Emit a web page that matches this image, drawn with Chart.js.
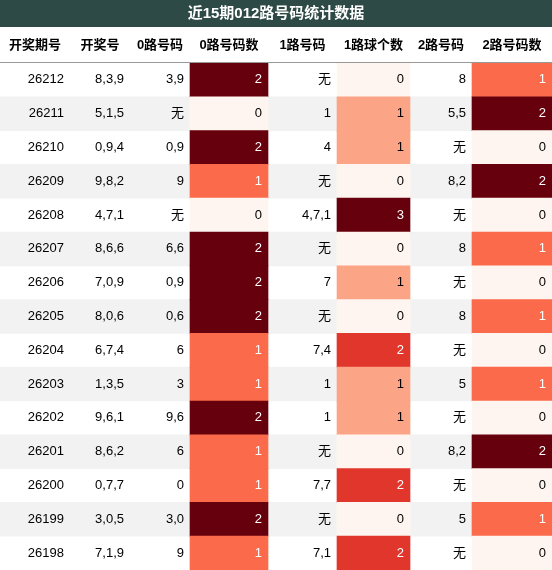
<!DOCTYPE html>
<html>
<head>
<meta charset="utf-8">
<script src="https://cdn.jsdelivr.net/npm/chart.js@4"></script>
<style>body{margin:0;background:#fff}</style>
</head>
<body>
<canvas id="tbl" width="552" height="570"></canvas>
<script>
const title = '近15期012路号码统计数据';
const headers = ['开奖期号','开奖号','0路号码','0路号码数','1路号码','1路球个数','2路号码','2路号码数'];
const issues = ['26212','26211','26210','26209','26208','26207','26206','26205','26204','26203','26202','26201','26200','26199','26198'];
const draws = ['8,3,9','5,1,5','0,9,4','9,8,2','4,7,1','8,6,6','7,0,9','8,0,6','6,7,4','1,3,5','9,6,1','8,6,2','0,7,7','3,0,5','7,1,9'];
const road0 = ['3,9','无','0,9','9','无','6,6','0,9','0,6','6','3','9,6','6','0','3,0','9'];
const count0 = [2,0,2,1,0,2,2,2,1,1,2,1,1,2,1];
const road1 = ['无','1','4','无','4,7,1','无','7','无','7,4','1','1','无','7,7','无','7,1'];
const count1 = [0,1,1,0,3,0,1,0,2,1,1,0,2,0,2];
const road2 = ['8','5,5','无','8,2','无','8','无','8','无','5','无','8,2','无','5','无'];
const count2 = [1,2,0,2,0,1,0,1,0,1,0,2,0,1,0];

// column edges in px (layout)
const edges = [0,70,130,190,268,337,410,472,552];
const pal2 = ['#fff5f0','#fb6a4a','#67000d'];
const pal3 = ['#fff5f0','#fca486','#e0362b','#67000d'];

const cols = [issues, draws, road0, count0, road1, count1, road2, count2];

function heat(col, values, pal) {
  return {
    data: values.map(() => [edges[col], edges[col + 1]]),
    backgroundColor: values.map(v => pal[v]),
    barPercentage: 1, categoryPercentage: 1, grouped: false, borderWidth: 0
  };
}

const textPlugin = {
  id: 'texts',
  beforeDraw(chart) {
    const c = chart.ctx;
    c.save();
    c.fillStyle = '#2e4a46';
    c.fillRect(0, 0, 552, 27);
    c.fillStyle = '#fff';
    c.font = 'bold 15px "Liberation Sans","Noto Sans CJK SC"';
    c.textAlign = 'center'; c.textBaseline = 'middle';
    c.fillText(title, 276, 14);
    c.fillStyle = '#000';
    c.font = 'bold 13px "Liberation Sans","Noto Sans CJK SC"';
    headers.forEach((h, j) => c.fillText(h, (edges[j] + edges[j + 1]) / 2, 45));
    c.strokeStyle = '#999'; c.lineWidth = 1;
    c.beginPath(); c.moveTo(0, 62.5); c.lineTo(552, 62.5); c.stroke();
    c.restore();
  },
  afterDatasetsDraw(chart) {
    const c = chart.ctx, y = chart.scales.y;
    c.save();
    c.font = '13px "Liberation Sans","Noto Sans CJK SC"';
    c.textAlign = 'right'; c.textBaseline = 'middle';
    issues.forEach((_, i) => {
      const py = y.getPixelForValue(i);
      cols.forEach((arr, j) => {
        const v = arr[i];
        let color = '#000';
        if (j === 3 || j === 7) color = v >= 1 ? '#fff' : '#000';
        if (j === 5) color = v >= 2 ? '#fff' : '#000';
        c.fillStyle = color;
        c.fillText(String(v), edges[j + 1] - 6, py);
      });
    });
    c.restore();
  }
};

new Chart(document.getElementById('tbl'), {
  type: 'bar',
  data: {
    labels: issues,
    datasets: [
      heat(3, count0, pal2),
      heat(5, count1, pal3),
      heat(7, count2, pal2),
      {
        data: issues.map((_, i) => i % 2 ? [0, 552] : null),
        backgroundColor: '#f2f2f2',
        barPercentage: 1, categoryPercentage: 1, grouped: false, borderWidth: 0
      }
    ]
  },
  options: {
    indexAxis: 'y',
    responsive: false,
    animation: false,
    layout: { padding: { top: 63, left: 0, right: 0, bottom: 0 } },
    scales: {
      x: { type: 'linear', min: 0, max: 552, display: false },
      y: { display: false, offset: true }
    },
    plugins: { legend: { display: false }, tooltip: { enabled: false }, title: { display: false } }
  },
  plugins: [textPlugin]
});
</script>
</body>
</html>
